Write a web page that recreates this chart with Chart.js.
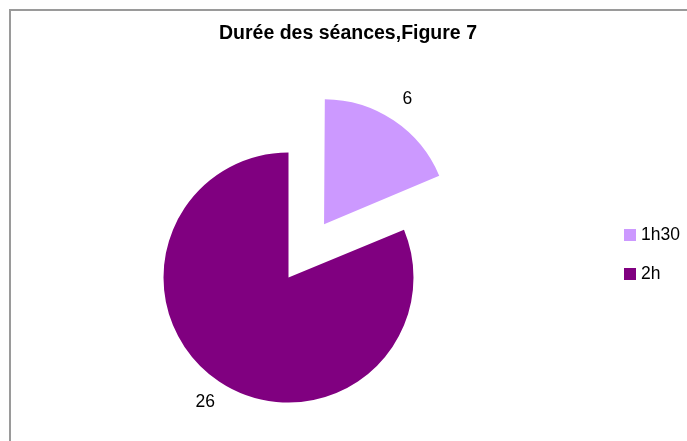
<!DOCTYPE html>
<html>
<head>
<meta charset="utf-8">
<title>Durée des séances</title>
<script src="https://cdn.jsdelivr.net/npm/chart.js@4/dist/chart.umd.min.js"></script>
<style>
  html, body { margin: 0; padding: 0; background: #fff; }
  #wrap { position: relative; width: 687px; height: 441px; }
</style>
</head>
<body>
<div id="wrap"><canvas id="seancesChart" width="687" height="441"></canvas></div>
<script>
// chart data
const titleText = 'Durée des séances,Figure 7';
const durations = ['1h30', '2h'];
const sessionCounts = [6, 26];

const sliceColors = ['#CC99FF', '#800080'];
const fontFamily = '"Liberation Sans", Arial, sans-serif';
// pixels the 1h30 slice is pulled out (chart.js draws offset / 4)
const explode = 64;

// draws the frame, title, legend and value labels (excel style)
const excelLook = {
  id: 'excelLook',
  afterDatasetsUpdate(chart) {
    // chart.js grows an exploded arc's radius a bit, undo that so both slices match
    chart.getDatasetMeta(0).data.forEach((arc, i) => {
      const off = (chart.data.datasets[0].offset[i] || 0) / 4;
      if (!off) return;
      const fix = 1 - Math.sin(Math.min(Math.PI, arc.circumference));
      arc.outerRadius -= off * fix;
    });
  },
  afterDraw(chart) {
    const ctx = chart.ctx;
    ctx.save();

    // frame lines left + top
    ctx.strokeStyle = '#9a9a9a';
    ctx.lineWidth = 2;
    ctx.beginPath();
    ctx.moveTo(10, 441);
    ctx.lineTo(10, 10);
    ctx.lineTo(687, 10);
    ctx.stroke();

    // title
    ctx.fillStyle = '#000';
    ctx.font = 'bold 19.5px ' + fontFamily;
    ctx.textAlign = 'center';
    ctx.textBaseline = 'alphabetic';
    ctx.fillText(titleText, 348, 39);

    // legend
    ctx.font = '17.5px ' + fontFamily;
    ctx.textAlign = 'left';
    ctx.textBaseline = 'middle';
    chart.data.labels.forEach((lbl, i) => {
      const y = 229 + i * 39;
      ctx.fillStyle = sliceColors[i];
      ctx.fillRect(624, y, 12, 12);
      ctx.fillStyle = '#000';
      ctx.fillText(lbl, 641, y + 6.5);
    });

    // value labels outside each slice
    const meta = chart.getDatasetMeta(0);
    const baseRadius = meta.controller.outerRadius;
    const offsets = chart.data.datasets[0].offset;
    ctx.textAlign = 'center';
    meta.data.forEach((arc, i) => {
      const p = arc.getProps(['x', 'y', 'startAngle', 'endAngle'], true);
      const mid = (p.startAngle + p.endAngle) / 2;
      const off = (offsets[i] || 0) / 4;
      const dist = off + baseRadius + 25;
      ctx.fillText(String(sessionCounts[i]), p.x + Math.cos(mid) * dist, p.y + Math.sin(mid) * dist);
    });

    ctx.restore();
  }
};

const ctx = document.getElementById('seancesChart').getContext('2d');
new Chart(ctx, {
  type: 'pie',
  data: {
    labels: durations,
    datasets: [{
      data: sessionCounts,
      backgroundColor: sliceColors,
      borderWidth: 0,
      offset: [explode * 4, 0]
    }]
  },
  options: {
    responsive: false,
    animation: false,
    radius: 125,
    layout: { padding: { left: 0, right: 110, top: 114, bottom: 0 } },
    plugins: {
      legend: { display: false },
      title: { display: false },
      tooltip: { enabled: false }
    }
  },
  plugins: [excelLook]
});
</script>
</body>
</html>
